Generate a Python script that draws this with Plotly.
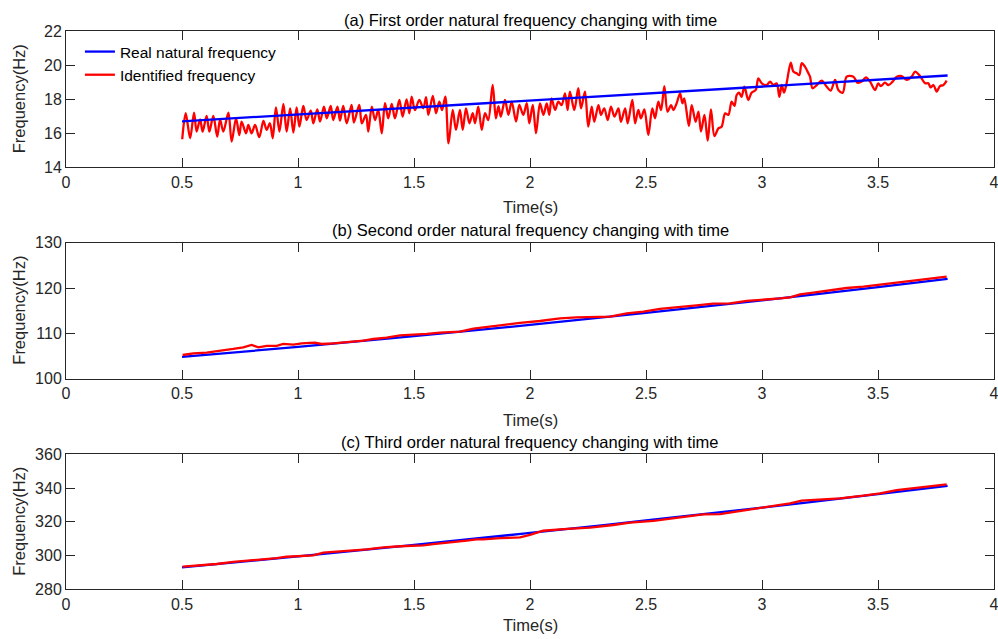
import plotly.graph_objects as go

# ---------------- data ----------------
t_real = [0.5, 1.0, 1.5, 2.0, 2.5, 3.0, 3.5, 3.8]
f1_real = [16.70, 17.11, 17.52, 17.93, 18.34, 18.75, 19.15, 19.40]
f2_real = [104.80, 107.01, 109.37, 111.86, 114.50, 117.27, 120.18, 122.00]
f3_real = [293.0, 299.5, 306.3, 313.4, 320.8, 328.4, 336.4, 341.3]

t1_id = [0.501, 0.516, 0.535, 0.552, 0.563, 0.578, 0.589, 0.606, 0.618, 0.635,
         0.652, 0.664, 0.678, 0.700, 0.714, 0.733, 0.747, 0.757, 0.776, 0.786,
         0.800, 0.815, 0.833, 0.851, 0.865, 0.879, 0.891, 0.905, 0.920, 0.937,
         0.951, 0.966, 0.980, 0.994, 1.006, 1.023, 1.037, 1.055, 1.066, 1.083,
         1.095, 1.112, 1.124, 1.141, 1.152, 1.170, 1.181, 1.195, 1.210, 1.231,
         1.241, 1.264, 1.275, 1.293, 1.303, 1.318, 1.332, 1.346, 1.361, 1.375,
         1.389, 1.404, 1.418, 1.437, 1.451, 1.468, 1.480, 1.490, 1.504, 1.523,
         1.540, 1.552, 1.562, 1.581, 1.595, 1.609, 1.621, 1.635, 1.649, 1.667,
         1.681, 1.698, 1.710, 1.724, 1.739, 1.753, 1.763, 1.777, 1.792, 1.806,
         1.820, 1.839, 1.853, 1.864, 1.874, 1.892, 1.907, 1.921, 1.940, 1.954,
         1.971, 1.986, 1.997, 2.012, 2.026, 2.043, 2.058, 2.072, 2.083, 2.093,
         2.108, 2.122, 2.136, 2.151, 2.162, 2.172, 2.191, 2.208, 2.220, 2.237,
         2.251, 2.266, 2.277, 2.295, 2.306, 2.320, 2.335, 2.349, 2.364, 2.381,
         2.392, 2.410, 2.421, 2.441, 2.453, 2.467, 2.478, 2.493, 2.510, 2.527,
         2.539, 2.553, 2.565, 2.579, 2.593, 2.608, 2.618, 2.632, 2.647, 2.657,
         2.665, 2.685, 2.697, 2.714, 2.726, 2.737, 2.752, 2.766, 2.780, 2.795,
         2.812, 2.826, 2.841, 2.855, 2.869, 2.881, 2.891, 2.901, 2.912, 2.924,
         2.941, 2.955, 2.973, 2.984, 2.999, 3.020, 3.035, 3.049, 3.063, 3.075,
         3.085, 3.095, 3.106, 3.124, 3.135, 3.149, 3.161, 3.171, 3.185, 3.200,
         3.207, 3.218, 3.236, 3.257, 3.279, 3.296, 3.315, 3.329, 3.348, 3.365,
         3.394, 3.411, 3.430, 3.448, 3.466, 3.487, 3.501, 3.512, 3.530, 3.545,
         3.563, 3.581, 3.602, 3.624, 3.645, 3.660, 3.681, 3.703, 3.717, 3.727,
         3.739, 3.753, 3.767, 3.782, 3.796]
f1_id = [15.65, 17.18, 15.71, 17.22, 16.10, 16.82, 16.10, 17.02, 16.10, 17.02,
         15.80, 16.82, 16.10, 17.22, 15.51, 16.88, 15.90, 16.69, 16.00, 16.49,
         16.00, 16.49, 15.77, 16.73, 16.20, 16.59, 15.71, 17.53, 16.10, 17.73,
         16.10, 17.47, 16.04, 17.53, 16.39, 17.61, 16.78, 17.33, 16.59, 17.41,
         16.69, 17.57, 16.88, 17.61, 16.78, 17.57, 16.75, 17.61, 16.59, 17.67,
         16.63, 17.67, 16.59, 17.08, 16.10, 17.57, 16.78, 17.37, 16.00, 17.77,
         16.88, 17.73, 16.88, 17.96, 16.98, 18.00, 17.18, 18.16, 17.37, 17.96,
         17.47, 18.12, 17.08, 18.20, 17.18, 17.86, 17.37, 18.16, 15.41, 17.37,
         16.20, 17.37, 16.20, 17.47, 16.59, 17.18, 16.59, 17.57, 16.20, 17.18,
         16.78, 18.84, 16.88, 17.60, 16.98, 17.96, 17.08, 17.86, 16.69, 17.67,
         17.08, 17.77, 16.59, 17.67, 16.00, 17.76, 17.08, 17.76, 17.08, 18.06,
         17.37, 17.86, 17.66, 18.35, 17.37, 18.45, 17.37, 18.65, 17.47, 18.45,
         16.39, 17.57, 16.68, 17.66, 17.08, 17.47, 16.78, 17.57, 16.98, 17.47,
         16.68, 17.47, 16.59, 17.96, 16.59, 17.37, 16.88, 17.41, 15.90, 17.47,
         16.88, 17.86, 17.37, 18.78, 17.27, 17.66, 17.37, 17.76, 18.35, 17.76,
         18.06, 16.43, 17.66, 16.68, 17.27, 16.10, 17.08, 15.57, 17.41, 15.84,
         16.29, 16.39, 17.17, 17.08, 17.86, 17.61, 18.25, 18.39, 18.15, 18.74,
         17.96, 18.39, 18.55, 19.23, 18.94, 18.84, 19.04, 18.84, 18.94, 18.15,
         18.84, 18.39, 18.94, 20.15, 19.63, 19.53, 19.43, 20.12, 19.92, 19.53,
         19.33, 18.65, 18.84, 19.10, 18.74, 18.51, 19.14, 18.55, 18.39, 19.33,
         19.33, 18.98, 19.04, 19.29, 19.04, 18.55, 18.94, 18.78, 18.98, 18.84,
         19.04, 19.33, 19.37, 19.14, 19.33, 19.63, 19.37, 18.94, 18.94, 18.70,
         18.84, 18.45, 18.78, 18.84, 19.10]

t2_id = [0.503, 0.549, 0.606, 0.664, 0.721, 0.764, 0.800, 0.829, 0.865, 0.908,
         0.937, 0.980, 1.016, 1.073, 1.102, 1.152, 1.224, 1.282, 1.325, 1.382,
         1.440, 1.497, 1.555, 1.612, 1.669, 1.698, 1.756, 1.799, 1.842, 1.914,
         1.957, 2.043, 2.129, 2.201, 2.288, 2.345, 2.417, 2.489, 2.560, 2.647,
         2.718, 2.790, 2.862, 2.934, 3.006, 3.078, 3.121, 3.164, 3.221, 3.293,
         3.365, 3.437, 3.509, 3.580, 3.652, 3.724, 3.796]
f2_id = [105.23, 105.60, 105.75, 106.12, 106.56, 106.93, 107.44, 106.93, 107.22, 107.22,
         107.66, 107.51, 107.81, 107.95, 107.66, 107.81, 108.10, 108.40, 108.76, 109.06,
         109.57, 109.65, 109.87, 110.16, 110.23, 110.38, 111.04, 111.34, 111.63, 112.07,
         112.30, 112.73, 113.32, 113.54, 113.69, 113.69, 114.42, 114.79, 115.38, 115.75,
         116.19, 116.56, 116.63, 117.15, 117.37, 117.73, 117.96, 118.62, 118.98, 119.57,
         120.01, 120.31, 120.75, 121.19, 121.63, 122.07, 122.51]

t3_id = [0.503, 0.577, 0.649, 0.721, 0.793, 0.865, 0.908, 0.951, 1.009, 1.066,
         1.109, 1.152, 1.224, 1.296, 1.368, 1.440, 1.540, 1.583, 1.655, 1.727,
         1.770, 1.799, 1.871, 1.957, 2.000, 2.057, 2.144, 2.259, 2.359, 2.431,
         2.532, 2.647, 2.747, 2.819, 2.905, 2.977, 3.063, 3.121, 3.171, 3.250,
         3.336, 3.437, 3.509, 3.580, 3.652, 3.724, 3.796]
f3_id = [293.4, 294.0, 295.0, 296.2, 297.0, 297.9, 298.5, 299.3, 299.5, 300.1,
         301.7, 302.3, 302.9, 303.7, 304.9, 305.5, 306.0, 306.8, 307.6, 308.8,
         309.6, 309.6, 310.3, 310.8, 312.2, 314.7, 315.7, 316.5, 318.1, 319.5,
         320.5, 322.4, 324.4, 324.6, 326.4, 328.0, 329.4, 330.9, 332.5, 333.3,
         333.9, 335.5, 336.9, 338.8, 339.8, 340.8, 342.2]

x_ticks = [0, 0.5, 1, 1.5, 2, 2.5, 3, 3.5, 4]
x_ticktext = ["0", "0.5", "1", "1.5", "2", "2.5", "3", "3.5", "4"]
y1_ticks = [14, 16, 18, 20, 22]
y2_ticks = [100, 110, 120, 130]
y3_ticks = [280, 300, 320, 340, 360]

titles = ["(a) First order natural frequency changing with time",
          "(b) Second order natural frequency changing with time",
          "(c) Third order natural frequency changing with time"]
x_label = "Time(s)"
y_label = "Frequency(Hz)"
legend_names = ["Real natural frequency", "Identified frequency"]

# ---------------- figure ----------------
W, H = 998, 639
FONT = "Liberation Sans, Arial, sans-serif"
AX = "#262626"
BLUE = "#0000FF"
RED = "#FF0000"
LW = 2.3

fig = go.Figure()

# panel (a): red under blue
fig.add_trace(go.Scatter(x=t1_id, y=f1_id, mode="lines", name=legend_names[1],
                         line=dict(color=RED, width=LW, shape="spline", smoothing=0.9),
                         xaxis="x", yaxis="y", legendrank=2))
fig.add_trace(go.Scatter(x=t_real, y=f1_real, mode="lines", name=legend_names[0],
                         line=dict(color=BLUE, width=LW), xaxis="x", yaxis="y", legendrank=1))
# panel (b)
fig.add_trace(go.Scatter(x=t_real, y=f2_real, mode="lines", showlegend=False,
                         line=dict(color=BLUE, width=LW, shape="spline"),
                         xaxis="x2", yaxis="y2"))
fig.add_trace(go.Scatter(x=t2_id, y=f2_id, mode="lines", showlegend=False,
                         line=dict(color=RED, width=LW), xaxis="x2", yaxis="y2"))
# panel (c)
fig.add_trace(go.Scatter(x=t_real, y=f3_real, mode="lines", showlegend=False,
                         line=dict(color=BLUE, width=LW, shape="spline"),
                         xaxis="x3", yaxis="y3"))
fig.add_trace(go.Scatter(x=t3_id, y=f3_id, mode="lines", showlegend=False,
                         line=dict(color=RED, width=LW), xaxis="x3", yaxis="y3"))

# panel pixel layout (top, bottom) in page pixels
panels = [(31.3, 167.3), (242.7, 378.7), (454.3, 589.3)]
L, R = 66, 994


def yfrac(py):
    return 1 - py / H


common = dict(showline=True, linecolor=AX, linewidth=1, mirror="ticks",
              ticks="inside", ticklen=9, tickwidth=1, tickcolor=AX,
              showgrid=False, zeroline=False, automargin=False,
              ticklabeloverflow="allow",
              tickfont=dict(family=FONT, size=16, color=AX))

ytick_sets = [y1_ticks, y2_ticks, y3_ticks]
layout_axes = {}
for i, (top, bot) in enumerate(panels):
    sfx = "" if i == 0 else str(i + 1)
    layout_axes["xaxis" + sfx] = dict(common, domain=[0, 1], range=[0, 4],
                                      tickvals=x_ticks, ticktext=x_ticktext,
                                      anchor="y" + sfx)
    yt = ytick_sets[i]
    layout_axes["yaxis" + sfx] = dict(common, domain=[yfrac(bot), yfrac(top)],
                                      range=[yt[0], yt[-1]], tickvals=yt,
                                      anchor="x" + sfx)

fig.update_layout(**layout_axes)

annotations = []
title_y = [20, 230, 442]
xlabel_y = [207, 420, 625]
for i in range(3):
    annotations.append(dict(text=titles[i], x=0.5, xref="paper", y=yfrac(title_y[i]),
                            yref="paper", xanchor="center", yanchor="middle",
                            showarrow=False,
                            font=dict(family=FONT, size=16.5, color="#000000")))
    annotations.append(dict(text=x_label, x=0.5, xref="paper", y=yfrac(xlabel_y[i]),
                            yref="paper", xanchor="center", yanchor="middle",
                            showarrow=False,
                            font=dict(family=FONT, size=16.5, color=AX)))
    top, bot = panels[i]
    annotations.append(dict(text=y_label, x=(19 - L) / (R - L), xref="paper",
                            y=yfrac((top + bot) / 2), yref="paper",
                            xanchor="center", yanchor="middle", textangle=-90,
                            showarrow=False,
                            font=dict(family=FONT, size=16.5, color=AX)))

fig.update_layout(
    width=W, height=H,
    margin=dict(l=L, r=W - R, t=0, b=0, autoexpand=False),
    paper_bgcolor="white", plot_bgcolor="white",
    annotations=annotations,
    showlegend=True,
    legend=dict(x=0.015, y=yfrac(35), xanchor="left", yanchor="top",
                bgcolor="rgba(0,0,0,0)", borderwidth=0,
                font=dict(family=FONT, size=15.5, color="#000000"),
                tracegroupgap=0, itemwidth=30),
)

fig.write_html("out.html", config={"displayModeBar": False},
               post_script="document.body.style.margin='0px';document.body.style.overflow='hidden';")
